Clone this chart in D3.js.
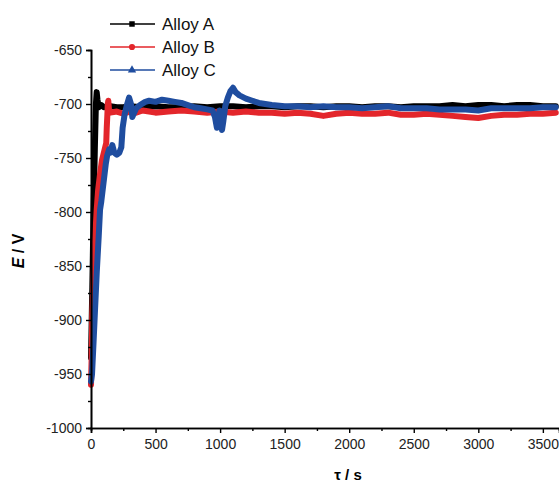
<html>
<head>
<meta charset="UTF-8">
<title>Open circuit potential</title>
<script src="https://d3js.org/d3.v7.min.js"></script>
<style>
  body { margin: 0; background: #fff; }
  text { font-family: "Liberation Sans", Arial, sans-serif; }
</style>
</head>
<body>
<svg width="559" height="484"></svg>
<script>
// time (s) and potential values
var tA = [0, 10, 20, 30, 38, 44, 50, 60, 80, 100, 150, 200, 250, 300, 400, 500, 600, 700, 800, 900,
  1000, 1100, 1200, 1300, 1400, 1500, 1600, 1700, 1800, 1900, 2000, 2100, 2200, 2300, 2400, 2500,
  2600, 2700, 2800, 2900, 3000, 3100, 3200, 3300, 3400, 3500, 3600];
var eA = [-935, -870, -800, -740, -700, -689, -696, -703, -701, -703, -702, -703, -703, -702, -703, -702, -703, -703, -702, -703,
  -702, -702, -703, -702, -702, -703, -702, -702, -703, -702, -702, -703, -702, -702, -703, -702,
  -702, -702, -701, -702, -701, -701, -702, -701, -701, -702, -702];

var tB = [0, 5, 10, 20, 30, 44, 55, 70, 85, 100, 110, 118, 122, 126, 130, 134, 140, 150, 200, 250,
  300, 350, 400, 450, 500, 600, 700, 800, 900, 1000, 1100, 1200, 1300, 1400, 1500, 1600, 1700, 1800,
  1900, 2000, 2100, 2200, 2300, 2400, 2500, 2600, 2700, 2800, 2900, 3000, 3100, 3200, 3300, 3400, 3500, 3600];
var eB = [-960, -935, -895, -860, -830, -798, -780, -765, -752, -745, -740, -736, -722, -712, -700, -697, -706, -708, -707, -709,
  -707, -708, -706, -707, -708, -707, -706, -707, -708, -707, -708, -707, -708, -708, -709, -708, -709, -711,
  -709, -708, -709, -709, -708, -710, -710, -709, -710, -711, -712, -713, -711, -710, -710, -709, -709, -708];

var tC = [0, 8, 20, 31, 45, 60, 70, 80, 100, 115, 125, 140, 150, 165, 180, 200, 220, 235, 245, 260,
  280, 295, 310, 320, 335, 350, 380, 420, 450, 500, 550, 600, 650, 700, 750, 800, 850, 900, 940,
  960, 975, 985, 995, 1005, 1015, 1025, 1040, 1060, 1080, 1100, 1120, 1150, 1200, 1250, 1300, 1350,
  1400, 1500, 1600, 1700, 1800, 1900, 2000, 2100, 2200, 2300, 2400, 2500, 2600, 2700, 2800, 2900,
  3000, 3100, 3200, 3300, 3400, 3500, 3600];
var eC = [-957, -950, -920, -891, -855, -822, -798, -790, -770, -755, -748, -742, -745, -738, -745, -747, -745, -740, -722, -710,
  -700, -694, -700, -712, -708, -704, -701, -698, -697, -698, -696, -697, -698, -699, -701, -703, -704, -705, -706,
  -712, -722, -715, -706, -712, -724, -716, -702, -694, -688, -685, -689, -692, -695, -697, -699, -700,
  -701, -702, -702, -703, -702, -703, -703, -704, -703, -702, -704, -704, -704, -705, -705, -705,
  -706, -704, -704, -704, -704, -703, -703];

var seriesNames = ["Alloy A", "Alloy B", "Alloy C"];
var seriesColors = ["#000000", "#e3262b", "#1f4d9f"];
var yTicks = [-1000, -950, -900, -850, -800, -750, -700, -650];
var xTicks = [0, 500, 1000, 1500, 2000, 2500, 3000, 3500];

var svg = d3.select("svg");

var x = d3.scaleLinear().domain([0, 3625]).range([91, 559]);
var y = d3.scaleLinear().domain([-1000, -650]).range([428, 50]);

var series = [
  {name: seriesNames[0], color: seriesColors[0], pts: tA.map(function(t, i) { return [t, eA[i]]; })},
  {name: seriesNames[1], color: seriesColors[1], pts: tB.map(function(t, i) { return [t, eB[i]]; })},
  {name: seriesNames[2], color: seriesColors[2], pts: tC.map(function(t, i) { return [t, eC[i]]; })}
];

var line = d3.line()
  .x(function(d) { return x(d[0]); })
  .y(function(d) { return y(d[1]); });

svg.append("g").selectAll("path")
  .data(series)
  .enter().append("path")
  .attr("d", function(d) { return line(d.pts); })
  .attr("fill", "none")
  .attr("stroke", function(d) { return d.color; })
  .attr("stroke-width", 6)
  .attr("stroke-linejoin", "round")
  .attr("stroke-linecap", "round");

// axes (plain hyphen for the minus sign, as in the original)
var fmt = function(d) { return String(d); };
var yAxis = d3.axisLeft(y).tickValues(yTicks).tickSize(5).tickPadding(4).tickFormat(fmt);
var yMinor = d3.axisLeft(y).tickValues(d3.range(-975, -650, 50)).tickSize(3).tickFormat("");
var xAxis = d3.axisBottom(x).tickValues(xTicks).tickSize(5).tickPadding(6).tickFormat(fmt);
var xMinor = d3.axisBottom(x).tickValues(d3.range(250, 3625, 500)).tickSize(3).tickFormat("");

function styleAxis(g) {
  g.select(".domain").attr("stroke", "#000").attr("stroke-width", 1.6);
  g.selectAll(".tick line").attr("stroke", "#000").attr("stroke-width", 1.4);
  g.selectAll(".tick text").attr("font-size", 14).attr("fill", "#222")
    .attr("font-family", "'Liberation Sans', Arial, sans-serif");
}

svg.append("g").attr("transform", "translate(91,0)").call(yMinor).call(styleAxis);
svg.append("g").attr("transform", "translate(91,0)").call(yAxis).call(styleAxis);
svg.append("g").attr("transform", "translate(0,428)").call(xMinor).call(styleAxis);
svg.append("g").attr("transform", "translate(0,428)").call(xAxis).call(styleAxis);

// axis titles
var yt = svg.append("text")
  .attr("transform", "translate(24,251) rotate(-90)")
  .attr("text-anchor", "middle")
  .attr("font-size", 16)
  .attr("font-weight", "bold");
yt.append("tspan").attr("font-style", "italic").text("E");
yt.append("tspan").text(" / V");

svg.append("text")
  .attr("x", 348).attr("y", 480)
  .attr("text-anchor", "middle")
  .attr("font-size", 15)
  .attr("font-weight", "bold")
  .text("τ / s");

// legend
var legend = svg.append("g").selectAll("g")
  .data(series)
  .enter().append("g")
  .attr("transform", function(d, i) { return "translate(0," + (24 + i * 23) + ")"; });

legend.append("line")
  .attr("x1", 110).attr("x2", 155)
  .attr("stroke", function(d) { return d.color; })
  .attr("stroke-width", 1.5);

legend.append("path")
  .attr("transform", "translate(132,0)")
  .attr("d", function(d, i) {
    var sym = [d3.symbolSquare, d3.symbolCircle, d3.symbolTriangle][i];
    return d3.symbol().type(sym).size(30)();
  })
  .attr("fill", function(d) { return d.color; });

legend.append("text")
  .attr("x", 162).attr("y", 6)
  .attr("font-size", 17)
  .attr("fill", "#111")
  .text(function(d) { return d.name; });
</script>
</body>
</html>
